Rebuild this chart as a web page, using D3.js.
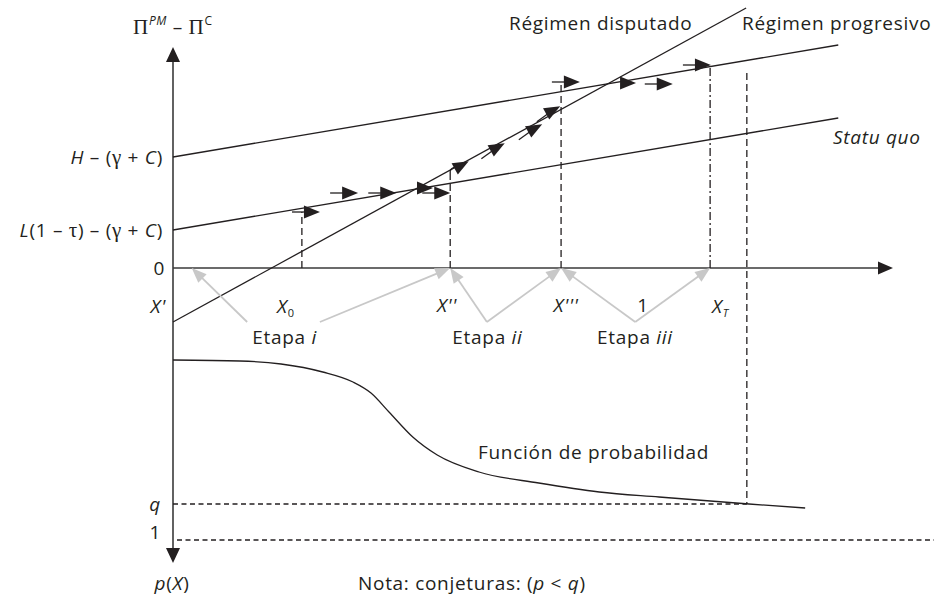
<!DOCTYPE html>
<html><head><meta charset="utf-8">
<script src="https://cdn.jsdelivr.net/npm/d3@7"></script>
<style>body{margin:0;background:#fff} text{font-family:"Open Sans",sans-serif;fill:#231f20;letter-spacing:0.7px}</style>
</head><body><svg id="c" width="934" height="595"></svg>
<script>
// ---- data (abstract units) ----
const statuQuo   = [[0, 1.9], [9.24, 7.5]];
const progresivo = [[0, 5.55], [9.24, 11.15]];
const disputado  = [[0, -2.7], [7.96, 13.0]];
// x positions of marks on the horizontal axis and the height of their guide lines
const markNames = ["X0", "X''", "X'''", "1", "XT"];
const markX     = [1.79, 3.85, 5.39, 6.53, 7.46];
const markTop   = [2.8, 4.55, 9.25, null, 10.15];
// dynamic arrows: x, y, direction (h = horizontal, d = along disputed line), tail
const arrowX   = [1.93, 2.46, 2.99, 3.50, 3.74, 4.01, 4.51, 5.03, 5.28, 5.54, 6.32, 6.83, 7.36];
const arrowY   = [2.80, 3.75, 3.75, 4.00, 3.75, 5.15, 6.05, 7.00, 7.90, 9.30, 9.25, 9.20, 10.15];
const arrowDir = ["h","h","h","h","h","d","d","d","d","h","h","h","h"];
const arrowTail= [1,1,1,0,1,0,1,1,1,1,0,1,1];
// probability function p(X)
const probX = [0, 0.93, 1.5, 2.08, 2.5, 2.75, 3.0, 3.33, 3.67, 4.25, 5.08, 5.92, 6.75, 8.0, 8.78];
const probP = [0.10, 0.105, 0.12, 0.16, 0.21, 0.265, 0.36, 0.485, 0.575, 0.66, 0.715, 0.76, 0.785, 0.82, 0.84];
const qValue = 0.82, oneValue = 1.0, probDropX = 7.97, probDropTop = 9.75;
// stage labels and grey pointer arrows
const stageNames = ["i", "ii", "iii"];
const stageLabelX = [1.10, 3.88, 5.89];
const pointerFrom = [[1.03, -2.7], [2.04, -2.7], [4.36, -2.7], [4.36, -2.7], [6.42, -2.7], [6.42, -2.7]];
const pointerTo   = [0.26, 3.85, 3.85, 5.39, 5.39, 7.46];

// ---- scales ----
const svg = d3.select("#c");
const x = d3.scaleLinear().domain([0, 10]).range([173, 893]);
const y = d3.scaleLinear().domain([-3, 13]).range([328, 8]);
const p = d3.scaleLinear().domain([0, 1]).range([340, 540]);
const ink = "#231f20", axisC = "#3a3a3a", grey = "#c8c8c8";

function tri(g, tx, ty, ux, uy, len, half, fill) {
  const bx = tx - ux*len, by = ty - uy*len;
  g.append("path").attr("d", `M${tx},${ty}L${bx - uy*half},${by + ux*half}L${bx + uy*half},${by - ux*half}Z`).attr("fill", fill);
}

// ---- axes ----
const ax = svg.append("g");
ax.append("line").attr("x1", x(0)).attr("x2", x(10) - 12).attr("y1", y(0)).attr("y2", y(0)).attr("stroke", axisC).attr("stroke-width", 1.6);
tri(ax, x(10), y(0), 1, 0, 15, 6.5, ink);
ax.append("line").attr("x1", x(0)).attr("x2", x(0)).attr("y1", y(11.05) + 12).attr("y2", p(1.115) - 12).attr("stroke", axisC).attr("stroke-width", 1.6);
tri(ax, x(0), y(11.05), 0, -1, 15, 7, ink);
tri(ax, x(0), p(1.115), 0, 1, 15, 7, ink);

// ---- regime lines ----
const lg = svg.append("g").attr("stroke", ink).attr("stroke-width", 1.3).attr("fill", "none");
[statuQuo, progresivo, disputado].forEach(l => lg.append("line")
  .attr("x1", x(l[0][0])).attr("y1", y(l[0][1])).attr("x2", x(l[1][0])).attr("y2", y(l[1][1])));

// ---- guide lines ----
const gd = svg.append("g").attr("stroke", ink).attr("stroke-width", 1.3).attr("fill", "none");
markX.forEach((mx, i) => {
  if (markTop[i] === null) return;
  gd.append("line").attr("x1", x(mx)).attr("x2", x(mx)).attr("y1", y(0)).attr("y2", y(markTop[i]))
    .attr("stroke-dasharray", markNames[i] === "XT" ? "8,3,2,3" : "7,4");
});
gd.append("path").attr("d", `M${x(3.85)},${y(4.55)}L${x(3.85)},${y(4.85)}Q${x(3.86)},${y(5.0)} ${x(3.93)},${y(5.05)}`);
gd.append("line").attr("x1", x(probDropX)).attr("x2", x(probDropX)).attr("y1", y(probDropTop)).attr("y2", p(qValue)).attr("stroke-dasharray", "7,4");
gd.append("line").attr("x1", x(0)).attr("x2", x(probDropX)).attr("y1", p(qValue)).attr("y2", p(qValue)).attr("stroke-dasharray", "5,3.5");
gd.append("line").attr("x1", x(0) + 4).attr("x2", 934).attr("y1", p(oneValue)).attr("y2", p(oneValue)).attr("stroke-dasharray", "5,3.5");

// ---- probability curve ----
svg.append("path").datum(probX.map((v, i) => [v, probP[i]]))
  .attr("d", d3.line().x(d => x(d[0])).y(d => p(d[1])).curve(d3.curveMonotoneX))
  .attr("fill", "none").attr("stroke", ink).attr("stroke-width", 1.3);

// ---- dynamic arrows ----
const dv = [x(disputado[1][0]) - x(disputado[0][0]), y(disputado[1][1]) - y(disputado[0][1])];
const dn = Math.hypot(dv[0], dv[1]); const du = [dv[0]/dn, dv[1]/dn];
const ar = svg.append("g");
arrowX.forEach((ax_, i) => {
  const u = arrowDir[i] === "h" ? [1, 0] : du;
  const cx = x(ax_), cy = y(arrowY[i]);
  if (arrowTail[i]) {
    const off = arrowDir[i] === "h" ? 0 : 2.5;
    ar.append("line").attr("x1", cx - u[0]*20 - u[1]*off).attr("y1", cy - u[1]*20 + u[0]*off)
      .attr("x2", cx).attr("y2", cy).attr("stroke", ink).attr("stroke-width", 1.3);
  }
  tri(ar, cx + u[0]*8, cy + u[1]*8, u[0], u[1], 16, 6.5, ink);
});

// ---- grey pointer arrows ----
const pg = svg.append("g");
pointerFrom.forEach((f, i) => {
  const x1 = x(f[0]), y1 = y(f[1]), x2 = x(pointerTo[i]), y2 = y(0);
  const L = Math.hypot(x2 - x1, y2 - y1), ux = (x2 - x1)/L, uy = (y2 - y1)/L;
  pg.append("line").attr("x1", x1).attr("y1", y1).attr("x2", x2 - ux*10).attr("y2", y2 - uy*10)
    .attr("stroke", grey).attr("stroke-width", 1.8);
  tri(pg, x2, y2, ux, uy, 15, 6, grey);
});

// ---- text ----
const T = svg.append("g").attr("font-size", 19);
function txt(px, py, anchor, parts) {
  const t = T.append("text").attr("x", px).attr("y", py).attr("text-anchor", anchor).attr("dominant-baseline", "central");
  parts.forEach(pt => {
    const s = t.append("tspan").text(pt.t);
    if (pt.i) s.attr("font-style", "italic");
    if (pt.f) s.attr("font-family", pt.f);
    if (pt.sup) s.attr("font-size", 12).attr("dy", pt.sup);
    if (pt.dy) s.attr("dy", pt.dy);
    if (pt.fs) s.attr("font-size", pt.fs);
  });
  return t;
}
const serif = "'Liberation Serif', serif";
txt(133, 27, "start", [{t:"Π", f:serif, fs:21}, {t:"PM", i:1, sup:-7}, {t:" – ", dy:7}, {t:"Π", f:serif, fs:21}, {t:"C", sup:-7}]);
txt(163, y(5.55), "end", [{t:"H", i:1}, {t:" – ("}, {t:"γ", f:serif, fs:21}, {t:" + "}, {t:"C", i:1}, {t:")"}]);
txt(163, y(1.9), "end", [{t:"L", i:1}, {t:"(1 – "}, {t:"τ", f:serif, fs:21}, {t:") – ("}, {t:"γ", f:serif, fs:21}, {t:" + "}, {t:"C", i:1}, {t:")"}]);
txt(165, y(0), "end", [{t:"0"}]);
txt(166, 306, "end", [{t:"X'", i:1}]);
txt(277, 306, "start", [{t:"X", i:1}, {t:"0", fs:11, dy:6}]);
txt(447, 305, "middle", [{t:"X''", i:1}]);
txt(566, 305, "middle", [{t:"X'''", i:1}]);
txt(x(6.53), 305, "middle", [{t:"1"}]);
txt(712, 306, "start", [{t:"X", i:1}, {t:"T", i:1, fs:11, dy:6}]);
stageNames.forEach((s, i) => txt(x(stageLabelX[i]), 337, "start", [{t:"Etapa "}, {t:s, i:1}]));
txt(509, 23, "start", [{t:"Régimen disputado"}]);
txt(742, 23, "start", [{t:"Régimen progresivo"}]);
txt(833, 137, "start", [{t:"Statu quo", i:1}]);
txt(478, 452, "start", [{t:"Función de probabilidad"}]);
txt(161, p(qValue), "end", [{t:"q", i:1}]);
txt(161, 532, "end", [{t:"1"}]);
txt(172, 583, "middle", [{t:"p", i:1}, {t:"("}, {t:"X", i:1}, {t:")"}]);
txt(358, 583, "start", [{t:"Nota: conjeturas: ("}, {t:"p", i:1}, {t:" < "}, {t:"q", i:1}, {t:")"}]);
</script></body></html>
